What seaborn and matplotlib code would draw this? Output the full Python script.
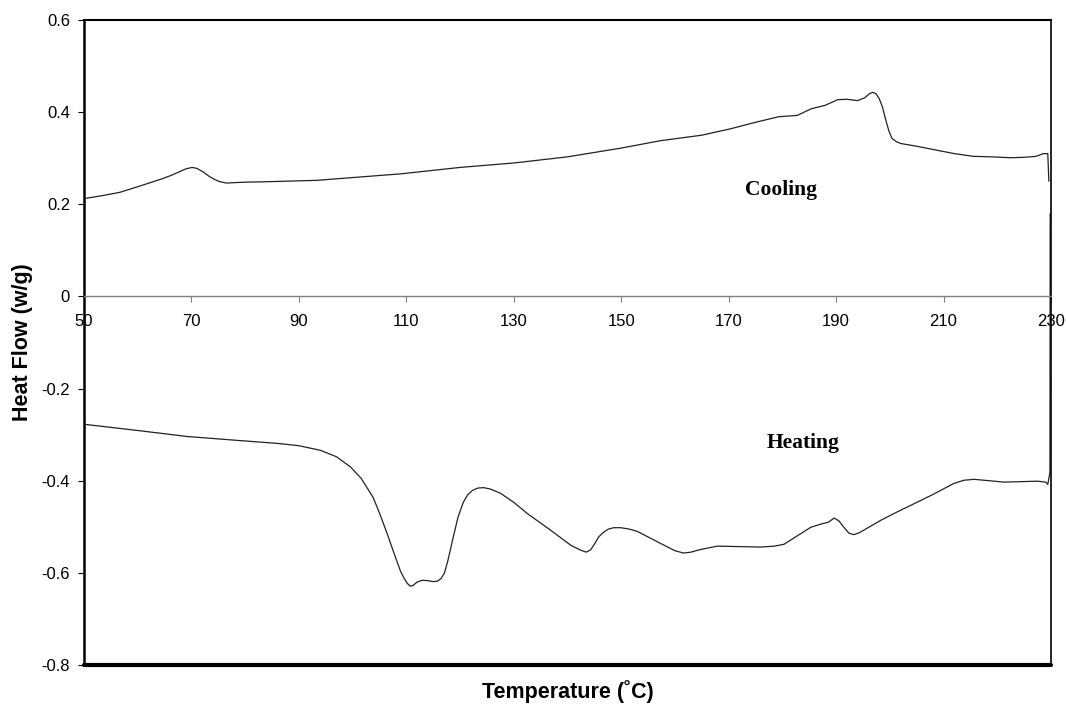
import numpy as np
import pandas as pd
import matplotlib
matplotlib.use("Agg")
import matplotlib.pyplot as plt
import seaborn as sns

# ---- data ----
cool_T = [50.4, 53.5, 56.7, 60.5, 64.7, 66.5, 68.0, 69.0, 70.1, 71.0, 72.2, 73.5, 75.0, 76.5,
          78.0, 80.0, 84.1, 93.4, 100.0, 108.9, 120.0, 130.3, 140.0, 150.0, 157.3, 165.0,
          170.4, 175.0, 179.3, 182.8, 185.3, 188.0, 190.3, 192.0, 194.0, 195.3, 196.2, 196.8,
          197.4, 198.0, 198.6, 199.2, 199.8, 200.4, 201.2, 202.0, 205.0, 208.9, 212.0, 215.6,
          219.0, 222.5, 225.0, 227.2, 228.6, 229.4, 229.6]
cool_HF = [0.213, 0.219, 0.226, 0.240, 0.256, 0.264, 0.272, 0.277, 0.280, 0.278, 0.270, 0.259,
           0.250, 0.246, 0.247, 0.248, 0.249, 0.252, 0.258, 0.266, 0.280, 0.290, 0.303, 0.322,
           0.338, 0.350, 0.364, 0.378, 0.390, 0.393, 0.407, 0.415, 0.427, 0.428, 0.425, 0.431,
           0.440, 0.443, 0.440, 0.430, 0.412, 0.385, 0.360, 0.343, 0.336, 0.332, 0.326, 0.317,
           0.310, 0.304, 0.303, 0.301, 0.302, 0.304, 0.310, 0.310, 0.250]

heat_T = [50.4, 60.0, 69.2, 78.0, 86.0, 90.0, 94.0, 97.0, 99.6, 101.6, 103.8, 105.0, 106.4,
          107.7, 108.9, 109.6, 110.2, 110.7, 111.3, 112.0, 113.0, 114.0, 115.0, 115.8, 116.5,
          117.1, 117.7, 118.6, 119.6, 120.6, 121.4, 122.3, 123.3, 124.4, 125.6, 127.5, 130.0,
          132.5, 136.8, 140.6, 142.5, 143.5, 144.3, 145.0, 145.8, 146.7, 147.6, 148.6, 149.9,
          151.5, 153.0, 157.3, 160.0, 161.6, 163.0, 164.5, 167.9, 172.0, 176.0, 178.5, 180.3,
          183.0, 185.3, 187.5, 188.6, 189.6, 190.5, 191.5, 192.4, 193.3, 194.3, 195.5, 198.3,
          201.5, 204.5, 208.0, 211.9, 213.8, 215.7, 218.5, 221.2, 224.5, 227.5, 229.0, 229.4,
          229.8, 229.85]
heat_HF = [-0.278, -0.291, -0.304, -0.312, -0.319, -0.324, -0.334, -0.348, -0.370, -0.395,
           -0.436, -0.470, -0.514, -0.557, -0.596, -0.612, -0.623, -0.629, -0.627, -0.620,
           -0.616, -0.617, -0.619, -0.618, -0.612, -0.600, -0.575, -0.529, -0.480, -0.447,
           -0.431, -0.421, -0.416, -0.415, -0.418, -0.427, -0.447, -0.471, -0.507, -0.540,
           -0.551, -0.555, -0.550, -0.538, -0.522, -0.512, -0.505, -0.502, -0.502, -0.505,
           -0.510, -0.536, -0.552, -0.557, -0.555, -0.550, -0.542, -0.543, -0.544, -0.542,
           -0.538, -0.518, -0.501, -0.493, -0.490, -0.481, -0.487, -0.502, -0.514, -0.517,
           -0.513, -0.505, -0.486, -0.467, -0.450, -0.430, -0.406, -0.399, -0.397, -0.400,
           -0.403, -0.402, -0.401, -0.403, -0.408, -0.382, 0.180]

y_ticks = [-0.8, -0.6, -0.4, -0.2, 0.0, 0.2, 0.4, 0.6]
y_tick_labels = ["-0.8", "-0.6", "-0.4", "-0.2", "0", "0.2", "0.4", "0.6"]
x_ticks = [50, 70, 90, 110, 130, 150, 170, 190, 210, 230]
x_tick_labels = [str(v) for v in x_ticks]

cool_df = pd.DataFrame({"T": cool_T, "HF": cool_HF})
heat_df = pd.DataFrame({"T": heat_T, "HF": heat_HF})

sns.set_theme(style="white")
plt.rcParams["font.family"] = ["Liberation Sans", "DejaVu Sans"]
plt.rcParams["text.color"] = "black"
plt.rcParams["axes.labelcolor"] = "black"
plt.rcParams["xtick.labelcolor"] = "black"
plt.rcParams["ytick.labelcolor"] = "black"

fig = plt.figure(figsize=(10.66, 7.10), dpi=100)
ax = fig.add_axes([84 / 1066, 1 - 665 / 710, (1051 - 84) / 1066, (665 - 20) / 710])

line_kw = dict(color="#222222", linewidth=0.9, sort=False, estimator=None, legend=False)
sns.lineplot(data=cool_df, x="T", y="HF", ax=ax, **line_kw)
sns.lineplot(data=heat_df, x="T", y="HF", ax=ax, **line_kw)

ax.set_xlim(50, 230)
ax.set_ylim(-0.8, 0.6)

# spines: x axis through zero, box around plot
ax.spines["bottom"].set_position(("data", 0))
ax.spines["bottom"].set_color("#808080")
ax.spines["bottom"].set_linewidth(1.0)
ax.spines["left"].set_color("black")
ax.spines["left"].set_linewidth(1.8)
ax.spines["top"].set_color("black")
ax.spines["top"].set_linewidth(1.5)
ax.spines["right"].set_color("black")
ax.spines["right"].set_linewidth(1.2)
ax.axhline(-0.8, color="black", linewidth=3.0, clip_on=False, zorder=3)

ax.set_xticks(x_ticks)
ax.set_xticklabels(x_tick_labels)
ax.set_yticks(y_ticks)
ax.set_yticklabels(y_tick_labels)
ax.tick_params(axis="x", direction="out", length=4, width=0.8, color="#808080",
               labelsize=12, pad=9, bottom=True, labelcolor="black")
ax.tick_params(axis="y", direction="out", length=4, width=0.8, color="black",
               labelsize=12, pad=6, left=True, labelcolor="black")

ax.set_ylabel("Heat Flow (w/g)", fontsize=15.5, fontweight="bold", color="black")
ax.yaxis.set_label_coords(-0.053, 0.5)
ax.set_xlabel("Temperature (\u02daC)", fontsize=15.5, fontweight="bold", color="black")
ax.xaxis.set_label_coords(0.5, -0.024)
ax.xaxis.label.set_va("top")

ax.text(179.7, 0.232, "Cooling", fontsize=15.5, fontweight="bold", color="black",
        family=["Liberation Serif", "DejaVu Serif"], ha="center", va="center")
ax.text(183.8, -0.319, "Heating", fontsize=15.5, fontweight="bold", color="black",
        family=["Liberation Serif", "DejaVu Serif"], ha="center", va="center")

ax.grid(False)
fig.savefig("out.png", dpi=100, facecolor="white")
